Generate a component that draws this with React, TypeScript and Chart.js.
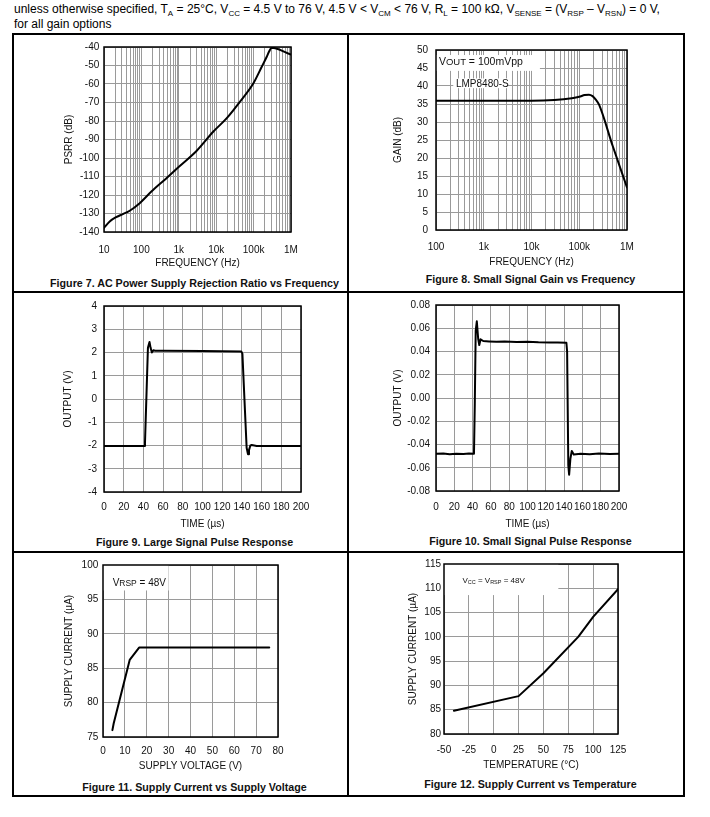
import React, { useEffect, useRef } from 'react';
import { Chart, registerables } from 'chart.js';

Chart.register(...registerables);

const FONT = '"Liberation Sans", Arial, Helvetica, sans-serif';
const INK = '#111';
const GRID = '#9a9a9a';

// ---------- Figure 7: PSRR vs frequency ----------
const psrrFreqHz = [10, 14.2, 20.5, 32, 48.7, 90, 185, 468, 1025, 2973, 8300, 18900, 43000, 98000, 164000, 223000, 262000, 303000, 1000000];
const psrrDb = [-137.8, -134.3, -132.1, -130.3, -128.5, -124.4, -118.1, -110.9, -104.6, -96.2, -85.8, -78.6, -69.6, -59.7, -50.8, -45.4, -42.3, -40.4, -44.1];
const psrrFreqTicks = [10, 100, 1000, 10000, 100000, 1000000];
const psrrFreqLabels = ['10', '100', '1k', '10k', '100k', '1M'];
const psrrDbTicks = [-140, -130, -120, -110, -100, -90, -80, -70, -60, -50, -40];
const psrrDbLabels = ['-140', '-130', '-120', '-110', '-100', '-90', '-80', '-70', '-60', '-50', '-40'];

// ---------- Figure 8: small signal gain vs frequency ----------
const gainFreqHz = [100, 1000, 10000, 30000, 70000, 100000, 130000, 160000, 190000, 220000, 260000, 500000, 1000000];
const gainDb = [35.9, 35.9, 35.9, 36.1, 36.6, 37.0, 37.5, 37.6, 37.2, 36.3, 34.8, 23.4, 11.8];
const gainFreqTicks = [100, 1000, 10000, 100000, 1000000];
const gainFreqLabels = ['100', '1k', '10k', '100k', '1M'];
const gainDbTicks = [0, 5, 10, 15, 20, 25, 30, 35, 40, 45, 50];
const gainDbLabels = ['0', '5', '10', '15', '20', '25', '30', '35', '40', '45', '50'];

// ---------- Figure 9: large signal pulse response ----------
const largeTimeUs = [0, 41, 41.6, 44.6, 46.2, 47.3, 48.6, 50.3, 52, 60, 100, 139.5, 140.5, 144.8, 146.2, 147.2, 148.6, 150, 155, 200];
const largeOutV = [-2.02, -2.02, -1.9, 2.2, 2.45, 2.2, 2.0, 2.1, 2.07, 2.07, 2.06, 2.04, 1.95, -2.1, -2.38, -2.2, -2.0, -1.98, -2.02, -2.02];
const largeTimeTicks = [0, 20, 40, 60, 80, 100, 120, 140, 160, 180, 200];
const largeTimeLabels = ['0', '20', '40', '60', '80', '100', '120', '140', '160', '180', '200'];
const largeOutTicks = [-4, -3, -2, -1, 0, 1, 2, 3, 4];
const largeOutLabels = ['-4', '-3', '-2', '-1', '0', '1', '2', '3', '4'];

// ---------- Figure 10: small signal pulse response ----------
const smallTimeUs = [0, 8, 15, 22, 30, 36, 41.5, 42.4, 43.4, 44.6, 46.1, 47.3, 48.7, 51.6, 58, 66, 75, 88, 100, 112, 124, 133, 142.5, 143.3, 144.6, 145.5, 146.9, 148.4, 150.5, 158, 168, 178, 190, 200];
const smallOutV = [-0.048, -0.0478, -0.0483, -0.0479, -0.0482, -0.0478, -0.048, -0.005, 0.058, 0.066, 0.051, 0.0455, 0.0505, 0.049, 0.0487, 0.0484, 0.0486, 0.0482, 0.0483, 0.0479, 0.0478, 0.0477, 0.0475, 0.04, -0.058, -0.066, -0.052, -0.0455, -0.0486, -0.0479, -0.0483, -0.0478, -0.0482, -0.048];
const smallTimeTicks = [0, 20, 40, 60, 80, 100, 120, 140, 160, 180, 200];
const smallTimeLabels = ['0', '20', '40', '60', '80', '100', '120', '140', '160', '180', '200'];
const smallOutTicks = [-0.08, -0.06, -0.04, -0.02, 0, 0.02, 0.04, 0.06, 0.08];
const smallOutLabels = ['-0.08', '-0.06', '-0.04', '-0.02', '0.00', '0.02', '0.04', '0.06', '0.08'];

// ---------- Figure 11: supply current vs supply voltage ----------
const supplyVoltageV = [4.3, 4.9, 12.2, 16.5, 76];
const supplyCurrentUa = [76.0, 77.0, 86.2, 88.0, 88.0];
const supplyVTicks = [0, 10, 20, 30, 40, 50, 60, 70, 80];
const supplyVLabels = ['0', '10', '20', '30', '40', '50', '60', '70', '80'];
const supplyITicks = [75, 80, 85, 90, 95, 100];
const supplyILabels = ['75', '80', '85', '90', '95', '100'];

// ---------- Figure 12: supply current vs temperature ----------
const temperatureC = [-40, 25, 50, 85, 100, 125];
const tempCurrentUa = [84.8, 87.8, 92.5, 100.0, 104.1, 109.8];
const tempTicks = [-50, -25, 0, 25, 50, 75, 100, 125];
const tempLabels = ['-50', '-25', '0', '25', '50', '75', '100', '125'];
const tempITicks = [80, 85, 90, 95, 100, 105, 110, 115];
const tempILabels = ['80', '85', '90', '95', '100', '105', '110', '115'];

type Seg = { t: string; size: number; dy?: number };
type Note = { box?: [number, number, number, number]; at?: [number, number]; segs?: Seg[] };

interface Spec {
  canvas: [number, number, number, number];
  plot: [number, number, number, number];
  xLog?: boolean;
  xRange: [number, number];
  yRange: [number, number];
  xTicks: number[];
  xLabels: string[];
  yTicks: number[];
  yLabels: string[];
  xTitle: string;
  yTitle: string;
  xTitleY: number;
  yTitleX: number;
  xLabelY: number;
  yLabelRight: number;
  xs: number[];
  ys: number[];
  smooth?: boolean;
  notes?: Note[];
}

function decoPlugin(notes: Note[]) {
  return {
    id: 'deco',
    beforeDatasetsDraw(chart: any) {
      const { ctx } = chart;
      const sx = chart.scales.x;
      const sy = chart.scales.y;
      ctx.save();
      for (const n of notes) {
        if (n.box) {
          const [x1, y1, x2, y2] = n.box;
          const px1 = sx.getPixelForValue(x1);
          const px2 = sx.getPixelForValue(x2);
          const py1 = sy.getPixelForValue(y1);
          const py2 = sy.getPixelForValue(y2);
          ctx.fillStyle = '#fff';
          ctx.fillRect(px1, py1, px2 - px1, py2 - py1);
        }
      }
      for (const n of notes) {
        if (n.at && n.segs) {
          let x = sx.getPixelForValue(n.at[0]);
          const y = sy.getPixelForValue(n.at[1]);
          ctx.fillStyle = INK;
          ctx.textBaseline = 'middle';
          ctx.textAlign = 'left';
          for (const s of n.segs) {
            ctx.font = `${s.size}px ${FONT}`;
            ctx.fillText(s.t, x, y + (s.dy || 0));
            x += ctx.measureText(s.t).width;
          }
        }
      }
      ctx.restore();
    },
    afterDatasetsDraw(chart: any) {
      const { ctx, chartArea: a } = chart;
      ctx.save();
      ctx.strokeStyle = '#000';
      ctx.lineWidth = 1.5;
      ctx.strokeRect(a.left, a.top, a.right - a.left, a.bottom - a.top);
      ctx.restore();
    },
  };
}

function buildConfig(s: Spec): any {
  const [cx, cy, cw, ch] = s.canvas;
  const [pl, pt, pr, pb] = s.plot;
  const font = { size: 10, family: FONT };
  let xTickValues = s.xTicks.slice();
  if (s.xLog) {
    const all: number[] = [];
    s.xTicks.forEach((d, i) => {
      all.push(d);
      if (i < s.xTicks.length - 1) for (let k = 2; k <= 9; k++) all.push(d * k);
    });
    xTickValues = all;
  }
  return {
    type: 'line',
    data: {
      datasets: [
        {
          data: s.xs.map((x, i) => ({ x, y: s.ys[i] })),
          borderColor: '#000',
          borderWidth: 2,
          pointRadius: 0,
          fill: false,
          tension: 0,
          cubicInterpolationMode: s.smooth ? 'monotone' : 'default',
          borderJoinStyle: 'round',
          borderCapStyle: 'round',
        },
      ],
    },
    options: {
      responsive: false,
      animation: false,
      devicePixelRatio: 1,
      layout: { padding: { top: pt - cy, right: cx + cw - pr, left: 0, bottom: 0 } },
      plugins: { legend: { display: false }, tooltip: { enabled: false } },
      scales: {
        x: {
          type: s.xLog ? 'logarithmic' : 'linear',
          position: 'bottom',
          min: s.xRange[0],
          max: s.xRange[1],
          afterBuildTicks: (sc: any) => {
            sc.ticks = xTickValues.map((v) => ({ value: v }));
          },
          afterFit: (sc: any) => {
            sc.height = cy + ch - pb;
          },
          grid: { color: GRID, lineWidth: 1, drawTicks: false },
          border: { display: false },
          ticks: {
            autoSkip: false,
            maxRotation: 0,
            minRotation: 0,
            padding: s.xLabelY - pb - 6,
            color: INK,
            font,
            callback: (v: number) => {
              const i = s.xTicks.indexOf(v);
              return i >= 0 ? s.xLabels[i] : '';
            },
          },
          title: {
            display: true,
            text: s.xTitle,
            color: INK,
            font,
            padding: { top: 0, bottom: cy + ch - s.xTitleY - 6 },
          },
        },
        y: {
          type: 'linear',
          position: 'left',
          min: s.yRange[0],
          max: s.yRange[1],
          afterBuildTicks: (sc: any) => {
            sc.ticks = s.yTicks.map((v) => ({ value: v }));
          },
          afterFit: (sc: any) => {
            sc.width = pl - cx;
          },
          grid: { color: GRID, lineWidth: 1, drawTicks: false },
          border: { display: false },
          ticks: {
            autoSkip: false,
            padding: pl - s.yLabelRight,
            color: INK,
            font,
            callback: (v: number) => {
              const i = s.yTicks.indexOf(v);
              return i >= 0 ? s.yLabels[i] : '';
            },
          },
          title: {
            display: true,
            text: s.yTitle,
            color: INK,
            font,
            padding: { top: s.yTitleX - cx - 6, bottom: 0 },
          },
        },
      },
    },
    plugins: [decoPlugin(s.notes || [])],
  };
}

const specs: Spec[] = [
  {
    canvas: [14, 35, 333, 237],
    plot: [104, 47, 291, 232],
    xLog: true,
    xRange: [10, 1000000],
    yRange: [-140, -40],
    xTicks: psrrFreqTicks,
    xLabels: psrrFreqLabels,
    yTicks: psrrDbTicks,
    yLabels: psrrDbLabels,
    xTitle: 'FREQUENCY (Hz)',
    yTitle: 'PSRR (dB)',
    xTitleY: 263.7,
    yTitleX: 69.3,
    xLabelY: 250.3,
    yLabelRight: 99.3,
    xs: psrrFreqHz,
    ys: psrrDb,
    smooth: true,
  },
  {
    canvas: [349, 35, 334, 237],
    plot: [436, 50, 627, 230],
    xLog: true,
    xRange: [100, 1000000],
    yRange: [0, 50],
    xTicks: gainFreqTicks,
    xLabels: gainFreqLabels,
    yTicks: gainDbTicks,
    yLabels: gainDbLabels,
    xTitle: 'FREQUENCY (Hz)',
    yTitle: 'GAIN (dB)',
    xTitleY: 262.7,
    yTitleX: 398.3,
    xLabelY: 247.7,
    yLabelRight: 428,
    xs: gainFreqHz,
    ys: gainDb,
    smooth: true,
    notes: [
      { box: [100, 48.6, 15000, 44.2] },
      { box: [230, 42.1, 3200, 39.4] },
      { at: [115, 46.75], segs: [{ t: 'V', size: 10.5 }, { t: 'OUT', size: 9.5, dy: 1 }, { t: ' = 100mVpp', size: 10.5 }] },
      { at: [262, 40.6], segs: [{ t: 'LMP8480-S', size: 10 }] },
    ],
  },
  {
    canvas: [14, 293, 333, 240],
    plot: [104, 306, 301, 492],
    xRange: [0, 200],
    yRange: [-4, 4],
    xTicks: largeTimeTicks,
    xLabels: largeTimeLabels,
    yTicks: largeOutTicks,
    yLabels: largeOutLabels,
    xTitle: 'TIME (µs)',
    yTitle: 'OUTPUT (V)',
    xTitleY: 524,
    yTitleX: 68.3,
    xLabelY: 507.3,
    yLabelRight: 97,
    xs: largeTimeUs,
    ys: largeOutV,
  },
  {
    canvas: [349, 293, 334, 240],
    plot: [436, 305, 619, 491],
    xRange: [0, 200],
    yRange: [-0.08, 0.08],
    xTicks: smallTimeTicks,
    xLabels: smallTimeLabels,
    yTicks: smallOutTicks,
    yLabels: smallOutLabels,
    xTitle: 'TIME (µs)',
    yTitle: 'OUTPUT (V)',
    xTitleY: 524,
    yTitleX: 398.3,
    xLabelY: 507.3,
    yLabelRight: 430,
    xs: smallTimeUs,
    ys: smallOutV,
  },
  {
    canvas: [14, 553, 333, 225],
    plot: [103, 565, 278, 737],
    xRange: [0, 80],
    yRange: [75, 100],
    xTicks: supplyVTicks,
    xLabels: supplyVLabels,
    yTicks: supplyITicks,
    yLabels: supplyILabels,
    xTitle: 'SUPPLY VOLTAGE (V)',
    yTitle: 'SUPPLY CURRENT (µA)',
    xTitleY: 766,
    yTitleX: 69.3,
    xLabelY: 751.7,
    yLabelRight: 98.3,
    xs: supplyVoltageV,
    ys: supplyCurrentUa,
    notes: [
      { box: [0, 100, 30, 96.3] },
      { at: [4.4, 97.4], segs: [{ t: 'V', size: 10 }, { t: 'RSP', size: 8.5, dy: 1 }, { t: ' = 48V', size: 10 }] },
    ],
  },
  {
    canvas: [349, 553, 334, 225],
    plot: [444, 564, 618, 734],
    xRange: [-50, 125],
    yRange: [80, 115],
    xTicks: tempTicks,
    xLabels: tempLabels,
    yTicks: tempITicks,
    yLabels: tempILabels,
    xTitle: 'TEMPERATURE (°C)',
    yTitle: 'SUPPLY CURRENT (µA)',
    xTitleY: 765,
    yTitleX: 413.3,
    xLabelY: 750.7,
    yLabelRight: 441,
    xs: temperatureC,
    ys: tempCurrentUa,
    notes: [
      { box: [-50, 115, 65, 108.6] },
      {
        at: [-31.5, 111.6],
        segs: [
          { t: 'V', size: 8 },
          { t: 'CC', size: 5.5, dy: 2 },
          { t: ' = ', size: 8 },
          { t: 'V', size: 8 },
          { t: 'RSP', size: 5.5, dy: 2 },
          { t: ' = 48V', size: 8 },
        ],
      },
    ],
  },
];

const captions: { text: string; cx: number; cy: number }[] = [
  { text: 'Figure 7. AC Power Supply Rejection Ratio vs Frequency', cx: 194.5, cy: 283 },
  { text: 'Figure 8. Small Signal Gain vs Frequency', cx: 530.5, cy: 279 },
  { text: 'Figure 9. Large Signal Pulse Response', cx: 194.5, cy: 542.3 },
  { text: 'Figure 10. Small Signal Pulse Response', cx: 530.5, cy: 541 },
  { text: 'Figure 11. Supply Current vs Supply Voltage', cx: 194.5, cy: 787.3 },
  { text: 'Figure 12. Supply Current vs Temperature', cx: 530.5, cy: 784 },
];

function Panel({ spec }: { spec: Spec }) {
  const ref = useRef<HTMLCanvasElement>(null);
  useEffect(() => {
    const chart = new Chart(ref.current as HTMLCanvasElement, buildConfig(spec));
    return () => chart.destroy();
  }, [spec]);
  const [x, y, w, h] = spec.canvas;
  return (
    <canvas
      ref={ref}
      width={w}
      height={h}
      style={{ position: 'absolute', left: x, top: y, width: w, height: h, display: 'block' }}
    />
  );
}

const Sub = ({ children }: { children: React.ReactNode }) => (
  <span style={{ fontSize: 8, position: 'relative', top: 3, lineHeight: 0 }}>{children}</span>
);

export default function App() {
  const line = (style: React.CSSProperties) => (
    <div style={{ position: 'absolute', background: '#000', ...style }} />
  );
  return (
    <div style={{ position: 'absolute', left: 0, top: 0, width: 710, height: 817, background: '#fff', overflow: 'hidden' }}>
      <div
        style={{
          position: 'absolute',
          left: 14,
          top: 2,
          fontFamily: FONT,
          fontSize: 12,
          lineHeight: '15px',
          color: '#000',
          whiteSpace: 'nowrap',
        }}
      >
        <div>
          unless otherwise specified, T<Sub>A</Sub> = 25°C, V<Sub>CC</Sub> = 4.5 V to 76 V, 4.5 V &lt; V<Sub>CM</Sub> &lt; 76 V, R
          <Sub>L</Sub> = 100 kΩ, V<Sub>SENSE</Sub> = (V<Sub>RSP</Sub> – V<Sub>RSN</Sub>) = 0 V,
        </div>
        <div>for all gain options</div>
      </div>
      {line({ left: 12, top: 33, width: 673, height: 2 })}
      {line({ left: 12, top: 795, width: 673, height: 2 })}
      {line({ left: 12, top: 33, width: 2, height: 764 })}
      {line({ left: 683, top: 33, width: 2, height: 764 })}
      {line({ left: 347, top: 33, width: 2, height: 764 })}
      {line({ left: 12, top: 291, width: 673, height: 2 })}
      {line({ left: 12, top: 551, width: 673, height: 2 })}
      {specs.map((s, i) => (
        <Panel key={i} spec={s} />
      ))}
      {captions.map((c, i) => (
        <div
          key={i}
          style={{
            position: 'absolute',
            left: c.cx - 170,
            width: 340,
            top: c.cy - 6.5,
            lineHeight: '13px',
            textAlign: 'center',
            fontFamily: FONT,
            fontWeight: 'bold',
            fontSize: 10.7,
            color: '#111',
            whiteSpace: 'nowrap',
          }}
        >
          {c.text}
        </div>
      ))}
    </div>
  );
}
